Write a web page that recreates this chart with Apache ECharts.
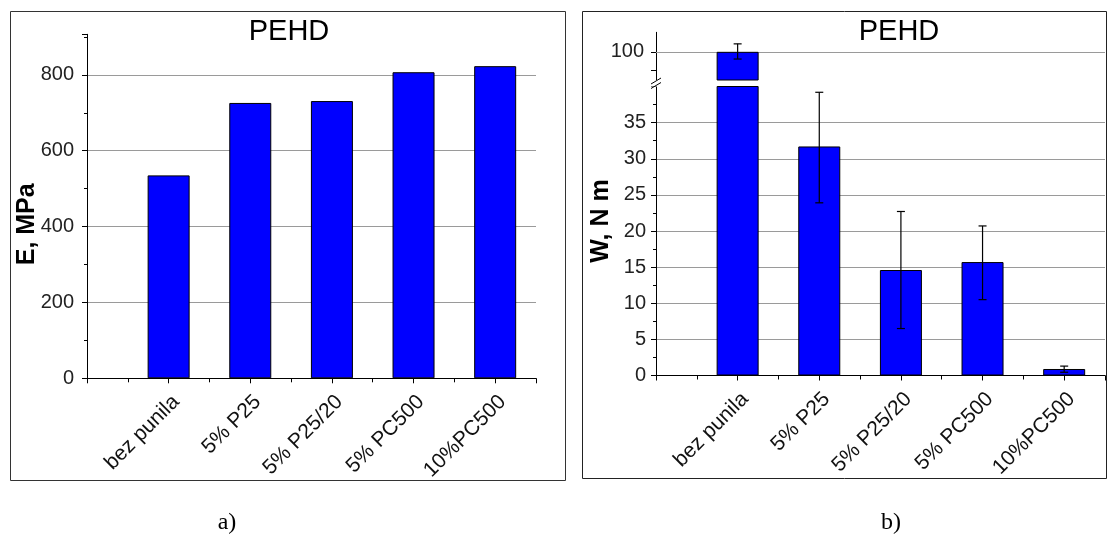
<!DOCTYPE html>
<html><head><meta charset="utf-8">
<script src="https://cdn.jsdelivr.net/npm/echarts@6/dist/echarts.min.js"></script>
<style>html,body{margin:0;padding:0;background:#fff}#c{width:1107px;height:535px}</style>
</head><body><div id="c"></div>
<script>
// ---- data ----
const categories = ['bez punila', '5% P25', '5% P25/20', '5% PC500', '10%PC500'];
const modulusE = [535, 726, 731, 807, 823];          // E, MPa (panel a)
const workW = [100, 31.7, 14.6, 15.7, 0.9];          // W, N m (panel b)
const workErrLow = [99.0, 23.9, 6.5, 10.5, 0.45];
const workErrHigh = [101.1, 39.2, 22.7, 20.7, 1.3];
const eTickLabels = [0, 200, 400, 600, 800];
const wTickLabelsLower = [0, 5, 10, 15, 20, 25, 30, 35];
const wTickLabelsUpper = [100];
const titles = ['PEHD', 'PEHD'];
const captions = ['a)', 'b)'];

// ---- layout / style ----
const FONT = '"Liberation Sans", Arial, sans-serif';
const SERIF = '"Liberation Serif", "Times New Roman", serif';
const LOWER_MAX = 40, UPPER_MIN = 96.1, UPPER_MAX = 102.7;
const GRAY = '#9a9a9a';
const catPos = categories.map((c, i) => i + 1);
function catLabel(v) {
  const r = Math.round(v);
  if (Math.abs(v - r) > 1e-6) return '';
  return (r >= 1 && r <= categories.length) ? categories[r - 1] : '';
}

const chart = echarts.init(document.getElementById('c'), null, {renderer: 'canvas'});

function xAxis(gridIndex, show) {
  return {
    type: 'value', gridIndex, min: 0, max: 5.5, interval: 1, show,
    axisLine: {show: true, onZero: false, lineStyle: {color: '#000', width: 1}},
    axisTick: {show: true, length: 5, lineStyle: {color: '#000'}},
    minorTick: {show: true, splitNumber: 2, length: 4, lineStyle: {color: '#000'}},
    splitLine: {show: false},
    axisLabel: {formatter: catLabel, rotate: 45, fontSize: 21, fontFamily: FONT, color: '#111',
                margin: 13, verticalAlign: 'top', align: 'right'}
  };
}
const yCommon = {
  type: 'value',
  axisLine: {show: true, onZero: false, lineStyle: {color: '#000', width: 1}},
  axisTick: {show: true, length: 5, lineStyle: {color: '#000'}},
  minorTick: {show: true, splitNumber: 2, length: 3, lineStyle: {color: '#000'}},
  axisLabel: {fontSize: 20, fontFamily: FONT, color: '#222', margin: 13, showMaxLabel: false},
  nameLocation: 'middle', nameMoveOverlap: false
};

function errItem(params, api) {
  const x = api.value(0), lo = api.value(1), hi = api.value(2);
  const a = api.coord([x, lo]), b = api.coord([x, hi]);
  const w = 4;
  const st = {stroke: '#000', lineWidth: 1.2};
  return {type: 'group', children: [
    {type: 'line', shape: {x1: a[0], y1: a[1], x2: b[0], y2: b[1]}, style: st},
    {type: 'line', shape: {x1: b[0] - w, y1: b[1], x2: b[0] + w, y2: b[1]}, style: st},
    {type: 'line', shape: {x1: a[0] - w, y1: a[1], x2: a[0] + w, y2: a[1]}, style: st}
  ]};
}

const wItems = catPos.map((x, i) => [x, workW[i]]);
const errItems = catPos.map((x, i) => [x, workErrLow[i], workErrHigh[i]]);
const barStyle = {color: '#0000ff', borderColor: '#000', borderWidth: 1};

const option = {
  animation: false,
  grid: [
    {left: 87, top: 34.3, width: 449, height: 344, outerBoundsMode: 'none', containLabel: false},
    {left: 656, top: 86.5, width: 449, height: 289, outerBoundsMode: 'none', containLabel: false},
    {left: 656, top: 32.3, width: 449, height: 47.7, outerBoundsMode: 'none', containLabel: false}
  ],
  xAxis: [xAxis(0, true), xAxis(1, true), xAxis(2, false)],
  yAxis: [
    Object.assign({}, yCommon, {
      gridIndex: 0, min: 0, max: 907, interval: 200,
      splitLine: {show: true, showMaxLine: false, lineStyle: {color: [GRAY, GRAY, GRAY, GRAY, GRAY, 'rgba(0,0,0,0)'], width: 1}},
      name: 'E, MPa', nameGap: 47,
      nameTextStyle: {fontSize: 25, fontWeight: 'bold', fontFamily: FONT, color: '#000', padding: [0, 36, 0, 0]}
    }),
    Object.assign({}, yCommon, {
      gridIndex: 1, min: 0, max: LOWER_MAX, interval: 5,
      axisLabel: Object.assign({}, yCommon.axisLabel, {margin: 10}),
      splitLine: {show: true, showMaxLine: false, lineStyle: {color: [GRAY, GRAY, GRAY, GRAY, GRAY, GRAY, GRAY, GRAY, 'rgba(0,0,0,0)'], width: 1}},
      name: 'W, N m', nameGap: 42,
      nameTextStyle: {fontSize: 25, fontWeight: 'bold', fontFamily: FONT, color: '#000', padding: [0, 0, 0, 20]}
    }),
    Object.assign({}, yCommon, {
      gridIndex: 2, min: UPPER_MIN, max: UPPER_MAX,
      axisLabel: Object.assign({}, yCommon.axisLabel, {margin: 12, showMaxLabel: true, customValues: wTickLabelsUpper}),
      axisTick: {show: true, length: 5, lineStyle: {color: '#000'}, customValues: [97.5].concat(wTickLabelsUpper)},
      minorTick: {show: false},
      splitLine: {show: false}
    })
  ],
  series: [
    {type: 'bar', xAxisIndex: 0, yAxisIndex: 0, barWidth: 42, itemStyle: barStyle,
     data: catPos.map((x, i) => [x, modulusE[i]])},
    {type: 'bar', xAxisIndex: 1, yAxisIndex: 1, barWidth: 42, itemStyle: barStyle, clip: true,
     data: wItems},
    {type: 'bar', xAxisIndex: 2, yAxisIndex: 2, barWidth: 42, itemStyle: barStyle, clip: true,
     data: wItems.filter(d => d[1] > LOWER_MAX),
     markLine: {silent: true, symbol: 'none', label: {show: false}, z: 1,
       lineStyle: {color: GRAY, type: 'solid', width: 1},
       data: wTickLabelsUpper.map(v => ({yAxis: v}))}},
    {type: 'custom', xAxisIndex: 1, yAxisIndex: 1, renderItem: errItem, z: 10, clip: false,
     encode: {x: 0, y: [1, 2]}, data: errItems.filter(d => d[2] <= LOWER_MAX)},
    {type: 'custom', xAxisIndex: 2, yAxisIndex: 2, renderItem: errItem, z: 10, clip: false,
     encode: {x: 0, y: [1, 2]}, data: errItems.filter(d => d[2] > LOWER_MAX)}
  ]
};
chart.setOption(option);

// decorations: frames, titles, captions, axis-break mark
const pUpBottom = chart.convertToPixel({gridIndex: 2}, [0, UPPER_MIN]);
const pLowTop = chart.convertToPixel({gridIndex: 1}, [0, LOWER_MAX]);
const brk = (x, y) => ({type: 'line', shape: {x1: x - 5, y1: y + 3, x2: x + 5, y2: y - 3}, style: {stroke: '#000', lineWidth: 1}, z: 20});
chart.setOption({graphic: {elements: [
  {type: 'rect', shape: {x: 10.5, y: 11.5, width: 555, height: 469}, style: {fill: 'none', stroke: '#333', lineWidth: 1}, silent: true},
  {type: 'rect', shape: {x: 582.5, y: 11.5, width: 524, height: 467}, style: {fill: 'none', stroke: '#222', lineWidth: 1}, silent: true},
  {type: 'text', x: 289, y: 32, style: {text: titles[0], font: '29px ' + FONT, fill: '#000', textAlign: 'center', textVerticalAlign: 'middle'}},
  {type: 'text', x: 899, y: 32, style: {text: titles[1], font: '29px ' + FONT, fill: '#000', textAlign: 'center', textVerticalAlign: 'middle'}},
  {type: 'text', x: 227, y: 523, style: {text: captions[0], font: '24px ' + SERIF, fill: '#000', textAlign: 'center', textVerticalAlign: 'middle'}},
  {type: 'text', x: 891, y: 523, style: {text: captions[1], font: '24px ' + SERIF, fill: '#000', textAlign: 'center', textVerticalAlign: 'middle'}},
  {type: 'rect', shape: {x: pUpBottom[0] - 6, y: pUpBottom[1], width: 12, height: pLowTop[1] - pUpBottom[1]}, style: {fill: '#fff'}, z: 15},
  brk(pUpBottom[0], pUpBottom[1] + 1),
  brk(pLowTop[0], pLowTop[1] - 1)
]}});
</script>
</body></html>
